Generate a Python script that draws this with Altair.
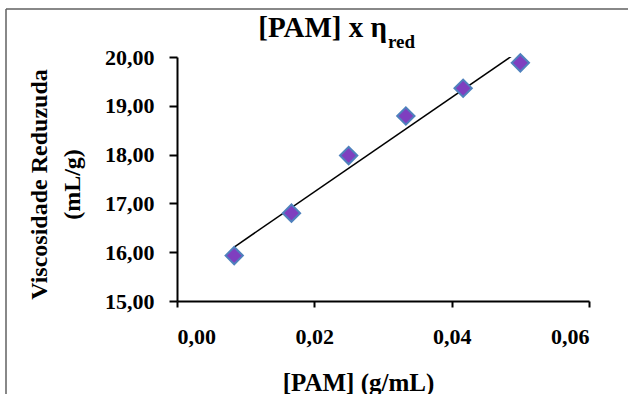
import altair as alt
import pandas as pd

# data
pam = [0.00833, 0.01667, 0.025, 0.03333, 0.04167, 0.05]
eta_red = [15.93, 16.80, 17.98, 18.79, 19.36, 19.88]
x_ticks = [0.0, 0.02, 0.04, 0.06]
y_ticks = [15, 16, 17, 18, 19, 20]

df = pd.DataFrame({"x": pam, "y": eta_red})
one = pd.DataFrame({"k": [0]})

FONT = "Liberation Serif"

xs = alt.Scale(domain=[0, 0.06], nice=False, zero=False)
ys = alt.Scale(domain=[15, 20], nice=False, zero=False)

x_axis = alt.Axis(
    values=x_ticks,
    labelExpr="replace(format(datum.value, '.2f'), '.', ',')",
    title="[PAM] (g/mL)",
    titleX=181, titleY=89, titleBaseline="alphabetic", titleAnchor="start", titleAlign="center",
    grid=False, domainColor="black", domainWidth=2, tickColor="black", tickWidth=2, tickSize=6,
    labelFont=FONT, labelFontSize=22, labelFontWeight="bold", labelColor="black", labelPadding=19,
    titleFont=FONT, titleFontSize=25, titleFontWeight="bold", titleColor="black",
)
y_axis = alt.Axis(
    values=y_ticks,
    labelExpr="replace(format(datum.value, '.2f'), '.', ',')",
    title=["Viscosidade Reduzuda", "(mL/g)"],
    titleX=-126, titleY=127, titleAngle=270, titleBaseline="bottom", titleAlign="center",
    titleLineHeight=33,
    grid=False, domainColor="black", domainWidth=2, tickColor="black", tickWidth=2, tickSize=8,
    labelFont=FONT, labelFontSize=22, labelFontWeight="bold", labelColor="black", labelPadding=15,
    titleFont=FONT, titleFontSize=24, titleFontWeight="bold", titleColor="black",
)

points = alt.Chart(df).mark_point(
    shape="diamond", filled=True, size=300, fill="#7f3fbf", stroke="#4f81bd",
    strokeWidth=2, opacity=1
).encode(
    x=alt.X("x:Q", scale=xs, axis=x_axis),
    y=alt.Y("y:Q", scale=ys, axis=y_axis),
)

trend = alt.Chart(df).transform_regression("x", "y").mark_line(
    color="black", strokeWidth=1.5, clip=True
).encode(x=alt.X("x:Q", scale=xs), y=alt.Y("y:Q", scale=ys))

title_main = alt.Chart(one).mark_text(
    text="[PAM] x η", font=FONT, fontSize=29, fontWeight="bold", color="black",
    align="right", baseline="alphabetic"
).encode(x=alt.value(210), y=alt.value(-20))
title_sub = alt.Chart(one).mark_text(
    text="red", font=FONT, fontSize=19, fontWeight="bold", color="black",
    align="left", baseline="alphabetic"
).encode(x=alt.value(211), y=alt.value(-9))

frame_top = alt.Chart(one).mark_rule(color="#606060", strokeWidth=1.5, clip=False).encode(
    x=alt.value(-171), x2=alt.value(451), y=alt.value(-48))
frame_left = alt.Chart(one).mark_rule(color="#606060", strokeWidth=1.5, clip=False).encode(
    x=alt.value(-171), y=alt.value(-48), y2=alt.value(337))

chart = alt.layer(frame_top, frame_left, trend, points, title_main, title_sub).properties(
    width=412, height=244,
    autosize=alt.AutoSizeParams(type="none"),
    padding={"left": 177, "top": 57, "right": 39, "bottom": 93},
    background="white",
).configure_view(stroke=None)

chart.save("out.html", embed_options={"renderer": "svg", "actions": False})
